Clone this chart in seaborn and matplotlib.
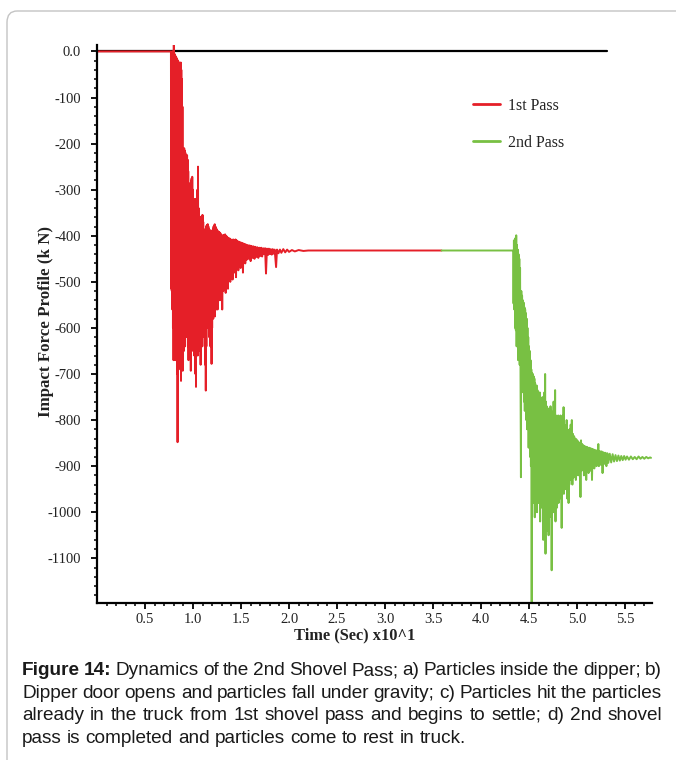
import numpy as np
import pandas as pd
import matplotlib
matplotlib.use("Agg")
import matplotlib.pyplot as plt
import seaborn as sns
from matplotlib.patches import FancyBboxPatch

# ---------------- data (time in Sec x10^1, force in kN) ----------------
ref_t = [0.0, 5.31]
ref_f = [0.0, 0.0]

red_t = [0.000, 0.770, 0.773, 0.776, 0.779, 0.782, 0.785, 0.788, 0.791, 0.794,
         0.797, 0.800, 0.803, 0.806, 0.809, 0.812, 0.815, 0.818, 0.821, 0.824,
         0.827, 0.830, 0.833, 0.836, 0.839, 0.842, 0.845, 0.848, 0.851, 0.854,
         0.857, 0.860, 0.863, 0.866, 0.869, 0.872, 0.875, 0.878, 0.881, 0.884,
         0.887, 0.890, 0.893, 0.896, 0.899, 0.902, 0.905, 0.908, 0.911, 0.914,
         0.917, 0.920, 0.923, 0.926, 0.929, 0.932, 0.935, 0.938, 0.941, 0.944,
         0.947, 0.950, 0.953, 0.956, 0.959, 0.962, 0.965, 0.968, 0.971, 0.974,
         0.977, 0.980, 0.983, 0.986, 0.989, 0.992, 0.995, 0.998, 1.001, 1.004,
         1.007, 1.010, 1.013, 1.016, 1.019, 1.022, 1.025, 1.028, 1.031, 1.034,
         1.037, 1.040, 1.043, 1.046, 1.049, 1.052, 1.055, 1.058, 1.061, 1.064,
         1.067, 1.070, 1.073, 1.076, 1.079, 1.082, 1.085, 1.088, 1.091, 1.094,
         1.097, 1.100, 1.103, 1.106, 1.109, 1.112, 1.115, 1.118, 1.121, 1.124,
         1.127, 1.130, 1.133, 1.136, 1.139, 1.142, 1.145, 1.148, 1.151, 1.154,
         1.157, 1.160, 1.163, 1.166, 1.169, 1.172, 1.175, 1.178, 1.181, 1.184,
         1.187, 1.190, 1.193, 1.196, 1.199, 1.202, 1.205, 1.208, 1.211, 1.214,
         1.217, 1.220, 1.223, 1.226, 1.229, 1.232, 1.235, 1.238, 1.241, 1.244,
         1.247, 1.250, 1.256, 1.262, 1.268, 1.274, 1.280, 1.286, 1.292, 1.298,
         1.304, 1.310, 1.316, 1.322, 1.328, 1.334, 1.340, 1.346, 1.352, 1.358,
         1.364, 1.370, 1.376, 1.382, 1.388, 1.394, 1.400, 1.406, 1.412, 1.418,
         1.424, 1.430, 1.436, 1.442, 1.448, 1.454, 1.460, 1.466, 1.472, 1.478,
         1.484, 1.490, 1.496, 1.502, 1.508, 1.514, 1.520, 1.526, 1.532, 1.538,
         1.544, 1.550, 1.560, 1.570, 1.580, 1.590, 1.600, 1.610, 1.620, 1.630,
         1.640, 1.650, 1.660, 1.670, 1.680, 1.690, 1.700, 1.710, 1.720, 1.730,
         1.740, 1.750, 1.760, 1.770, 1.780, 1.790, 1.800, 1.810, 1.820, 1.830,
         1.840, 1.850, 1.865, 1.875, 1.890, 1.905, 1.920, 1.940, 1.960, 1.980,
         2.000, 2.030, 2.060, 2.100, 2.150, 2.200, 2.300, 3.588]
red_f = [0, 0, -515, -5, -520, 0, -560, -3, -600, 0,
         -670, 15, -640, -5, -660, -8, -670, -10, -600, -12,
         -640, -15, -700, -18, -848, -20, -650, -22, -690, -25,
         -620, -28, -680, -26, -600, -24, -715, -40, -640, -60,
         -690, -120, -693, -213, -620, -212, -650, -210, -600, -215,
         -640, -220, -590, -230, -620, -240, -600, -225, -580, -235,
         -640, -260, -670, -290, -600, -300, -560, -290, -640, -285,
         -693, -280, -600, -275, -650, -272, -620, -300, -640, -320,
         -600, -325, -660, -330, -620, -320, -700, -330, -728, -335,
         -640, -330, -600, -300, -660, -250, -620, -340, -640, -360,
         -600, -380, -650, -370, -680, -360, -620, -358, -600, -356,
         -640, -355, -600, -370, -580, -390, -620, -400, -600, -390,
         -680, -385, -736, -380, -640, -378, -580, -376, -560, -375,
         -600, -380, -560, -385, -620, -390, -580, -392, -640, -388,
         -600, -390, -678, -392, -600, -390, -560, -385, -580, -380,
         -540, -378, -560, -375, -575, -380, -540, -382, -560, -385,
         -530, -388, -560, -390, -520, -392, -540, -395, -510, -398,
         -560, -400, -520, -398, -505, -397, -524, -400, -500, -403,
         -515, -405, -490, -406, -500, -408, -480, -410, -495, -408,
         -470, -410, -480, -408, -490, -410, -465, -412, -475, -413,
         -460, -414, -470, -415, -458, -416, -480, -417, -455, -418,
         -460, -419, -452, -420, -450, -421, -455, -422, -448, -423,
         -450, -424, -446, -425, -448, -426, -444, -426, -445, -427,
         -440, -427, -482, -428, -442, -428, -440, -429, -441, -429,
         -439, -430, -468, -430, -438, -430, -437, -429, -436, -430,
         -435, -431, -434, -431, -433, -432, -432, -432]

green_t = [3.588, 4.335, 4.338, 4.342, 4.346, 4.350, 4.354, 4.358, 4.362, 4.366,
           4.370, 4.374, 4.378, 4.382, 4.386, 4.390, 4.394, 4.398, 4.402, 4.406,
           4.410, 4.415, 4.419, 4.423, 4.427, 4.431, 4.435, 4.439, 4.443, 4.447,
           4.451, 4.455, 4.459, 4.463, 4.467, 4.471, 4.475, 4.479, 4.483, 4.487,
           4.491, 4.495, 4.499, 4.503, 4.507, 4.511, 4.515, 4.519, 4.523, 4.527,
           4.531, 4.535, 4.539, 4.543, 4.547, 4.551, 4.555, 4.559, 4.563, 4.567,
           4.571, 4.575, 4.579, 4.583, 4.587, 4.591, 4.595, 4.599, 4.603, 4.607,
           4.611, 4.615, 4.619, 4.623, 4.627, 4.631, 4.635, 4.639, 4.643, 4.647,
           4.651, 4.655, 4.659, 4.663, 4.667, 4.671, 4.675, 4.679, 4.683, 4.687,
           4.691, 4.695, 4.699, 4.703, 4.707, 4.711, 4.715, 4.719, 4.723, 4.727,
           4.731, 4.735, 4.739, 4.743, 4.747, 4.751, 4.755, 4.759, 4.763, 4.767,
           4.771, 4.775, 4.779, 4.783, 4.787, 4.791, 4.795, 4.799, 4.803, 4.807,
           4.811, 4.815, 4.819, 4.823, 4.827, 4.831, 4.835, 4.839, 4.843, 4.847,
           4.851, 4.855, 4.859, 4.863, 4.867, 4.871, 4.875, 4.879, 4.883, 4.887,
           4.891, 4.895, 4.899, 4.903, 4.907, 4.911, 4.915, 4.919, 4.923, 4.927,
           4.933, 4.939, 4.945, 4.951, 4.957, 4.963, 4.969, 4.975, 4.981, 4.987,
           4.993, 4.999, 5.005, 5.011, 5.017, 5.023, 5.029, 5.035, 5.041, 5.047,
           5.053, 5.059, 5.065, 5.071, 5.077, 5.083, 5.089, 5.095, 5.101, 5.107,
           5.113, 5.119, 5.125, 5.131, 5.137, 5.143, 5.149, 5.155, 5.161, 5.167,
           5.173, 5.179, 5.185, 5.191, 5.197, 5.203, 5.209, 5.215, 5.221, 5.227,
           5.235, 5.245, 5.255, 5.265, 5.275, 5.285, 5.295, 5.305, 5.315, 5.325,
           5.340, 5.355, 5.370, 5.385, 5.400, 5.415, 5.430, 5.445, 5.460, 5.475,
           5.490, 5.505, 5.520, 5.540, 5.560, 5.580, 5.600, 5.620, 5.640, 5.660,
           5.680, 5.700, 5.720, 5.740, 5.760, 5.770]
green_f = [-432, -432, -547, -410, -560, -420, -600, -405, -605, -399,
           -640, -420, -620, -430, -670, -440, -640, -450, -680, -470,
           -650, -924, -520, -700, -530, -720, -540, -740, -545, -760,
           -555, -780, -560, -760, -568, -800, -580, -820, -600, -800,
           -620, -860, -640, -840, -650, -880, -670, -900, -690, -1195,
           -698, -920, -700, -950, -705, -980, -710, -1011, -720, -960,
           -730, -940, -725, -1000, -735, -960, -740, -980, -745, -940,
           -740, -1020, -750, -970, -755, -990, -760, -950, -750, -1060,
           -760, -980, -740, -1000, -700, -1090, -760, -990, -770, -1040,
           -780, -970, -775, -1050, -785, -990, -790, -960, -770, -1010,
           -780, -1126, -790, -980, -785, -1000, -760, -960, -770, -950,
           -735, -1020, -790, -960, -800, -990, -795, -940, -790, -980,
           -800, -950, -795, -970, -790, -940, -800, -1034, -810, -960,
           -790, -940, -772, -960, -810, -930, -820, -950, -815, -940,
           -800, -970, -820, -930, -830, -980, -825, -940, -820, -930,
           -810, -920, -800, -940, -830, -925, -835, -915, -840, -930,
           -842, -910, -845, -920, -848, -905, -850, -967, -844, -910,
           -852, -905, -855, -920, -856, -900, -858, -930, -858, -905,
           -860, -915, -860, -900, -861, -910, -862, -930, -863, -900,
           -864, -905, -865, -898, -866, -900, -866, -895, -852, -900,
           -867, -897, -868, -915, -870, -895, -871, -900, -872, -893,
           -873, -892, -874, -890, -876, -889, -877, -888, -878, -887,
           -878, -886, -879, -886, -879, -885, -880, -885, -879, -884,
           -880, -884, -880, -883, -881, -882]

xtick_vals = [0.5, 1.0, 1.5, 2.0, 2.5, 3.0, 3.5, 4.0, 4.5, 5.0, 5.5]
xtick_labels = ["0.5", "1.0", "1.5", "2.0", "2.5", "3.0", "3.5", "4.0", "4.5", "5.0", "5.5"]
ytick_vals = [0, -100, -200, -300, -400, -500, -600, -700, -800, -900, -1000, -1100]
ytick_labels = ["0.0", "-100", "-200", "-300", "-400", "-500", "-600", "-700",
                "-800", "-900", "-1000", "-1100"]
series_names = ["1st Pass", "2nd Pass"]

caption_lines = [
    [("Figure", "bold"), ("14:", "bold"), ("Dynamics of the 2nd Shovel Pass; a) Particles inside the dipper; b)", "normal")],
    [("Dipper door opens and particles fall under gravity; c) Particles hit the particles", "normal")],
    [("already in the truck from 1st shovel pass and begins to settle; d) 2nd shovel", "normal")],
    [("pass is completed and particles come to rest in truck.", "normal")],
]

# ---------------- style ----------------
sns.set_theme(style="white")
plt.rcParams["font.family"] = ["Liberation Serif", "DejaVu Serif"]

RED = "#e51f28"
GREEN = "#78c043"

W, H = 676, 760
fig = plt.figure(figsize=(W / 100, H / 100), dpi=100)
fig.patch.set_facecolor("white")

frame = FancyBboxPatch((7 / W, -0.05), 1.2, 1 - 11 / H + 0.05,
                       boxstyle="round,pad=0,rounding_size=0.015",
                       transform=fig.transFigure, fill=False,
                       edgecolor="#c4c4c4", linewidth=1.0)
fig.patches.append(frame)

ax = fig.add_axes([97 / W, 1 - 603 / H, (652 - 97) / W, (603 - 45) / H])
ax.set_facecolor("white")

df_ref = pd.DataFrame({"t": ref_t, "f": ref_f})
df_red = pd.DataFrame({"t": red_t, "f": red_f})
df_green = pd.DataFrame({"t": green_t, "f": green_f})

sns.lineplot(data=df_ref, x="t", y="f", color="black", lw=1.6, ax=ax,
             estimator=None, sort=False, legend=False)
sns.lineplot(data=df_red, x="t", y="f", color=RED, lw=1.4, ax=ax,
             estimator=None, sort=False, label=series_names[0])
sns.lineplot(data=df_green, x="t", y="f", color=GREEN, lw=1.4, ax=ax,
             estimator=None, sort=False, label=series_names[1])

ax.set_xlim(0, 5.78)
ax.set_ylim(-1197, 14)

for s in ["top", "right"]:
    ax.spines[s].set_visible(False)
for s in ["left", "bottom"]:
    ax.spines[s].set_color("black")
    ax.spines[s].set_linewidth(1.6)

ax.set_xticks(xtick_vals)
ax.set_xticklabels(xtick_labels)
ax.set_xticks(np.arange(0.1, 5.75, 0.1), minor=True)
ax.set_yticks(ytick_vals)
ax.set_yticklabels(ytick_labels)
ax.set_yticks(np.arange(-1180, 1, 20), minor=True)

ax.tick_params(axis="both", which="major", direction="out", length=4.5, width=1.3,
               color="black", labelsize=10.5, labelcolor="#222222")
ax.tick_params(axis="both", which="minor", direction="out", length=2.5, width=1.1,
               color="black")
ax.tick_params(axis="x", which="both", bottom=True, pad=3)
ax.tick_params(axis="y", which="both", left=True, pad=7)

ax.set_xlabel("Time (Sec) x10^1", fontsize=11.8, fontweight="bold", color="#222222")
ax.set_ylabel("Impact Force Profile (k N)", fontsize=12.2, fontweight="bold", color="#222222")
ax.xaxis.set_label_coords(0.465, -0.043)
ax.yaxis.set_label_coords(-0.077, 0.505)

leg = ax.legend(loc="upper left", bbox_to_anchor=(0.677, 0.905), frameon=False,
                fontsize=11.5, handlelength=1.7, handletextpad=0.5,
                labelspacing=1.3, borderaxespad=0, borderpad=0)
for txt in leg.get_texts():
    txt.set_color("#222222")
for ln in leg.get_lines():
    ln.set_linewidth(2.0)

# ---------------- caption (justified) ----------------
cap_family = ["Liberation Sans", "DejaVu Sans"]
cap_fs = 13.7
renderer = fig.canvas.get_renderer()
x0, x1 = 22, 662
baselines = [675, 698, 720, 743]


def measure(s, wt):
    t = fig.text(0, 0, s, fontsize=cap_fs, fontweight=wt, family=cap_family)
    w = t.get_window_extent(renderer).width
    t.remove()
    return w


space_w = measure("a a", "normal") - measure("aa", "normal")
for li, segs in enumerate(caption_lines):
    words = []
    for s, wt in segs:
        for w in s.split(" "):
            words.append((w, wt))
    widths = [measure(w, wt) for w, wt in words]
    justify = li < len(caption_lines) - 1
    if justify and len(words) > 1:
        gap = max((x1 - x0 - sum(widths)) / (len(words) - 1), 0.5 * space_w)
    else:
        gap = space_w
    x = x0
    for (w, wt), wd in zip(words, widths):
        fig.text(x / W, 1 - baselines[li] / H, w, fontsize=cap_fs, fontweight=wt,
                 family=cap_family, ha="left", va="baseline", color="#1a1a1a")
        x += wd + gap

fig.savefig("out.png", dpi=100, facecolor="white")
